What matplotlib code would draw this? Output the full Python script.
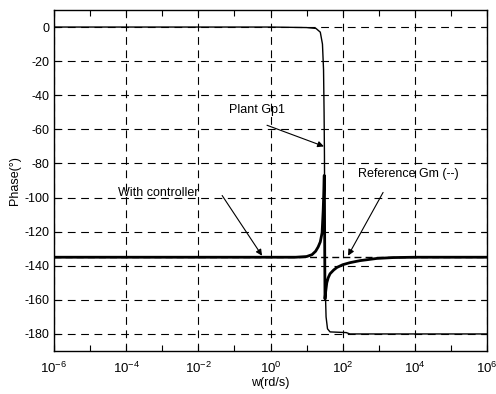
import numpy as np
import matplotlib
matplotlib.use("Agg")
import matplotlib.pyplot as plt
from matplotlib.ticker import FixedLocator, NullFormatter

plt.rcParams['font.family'] = ['Liberation Sans', 'DejaVu Sans']
plt.rcParams['mathtext.fontset'] = 'custom'
plt.rcParams['mathtext.rm'] = 'Liberation Sans'
plt.rcParams['mathtext.it'] = 'Liberation Sans'

# ---- data (log10 of frequency in rd/s, phase in degrees) ----
plant_logw = [-6.0, 0.0, 1.0, 1.26, 1.38, 1.44, 1.47, 1.485, 1.495, 1.50, 1.51, 1.52, 1.54, 1.58, 1.65, 2.10, 2.20, 6.0]
plant_phase = [0, 0, -0.3, -0.8, -3, -10, -25, -50, -75, -100, -135, -155, -170, -177, -178.8, -179.2, -180, -180]

ctrl_logw = [-6.0, 0.7, 1.0, 1.15, 1.25, 1.32, 1.38, 1.43, 1.46, 1.48, 1.49, 1.50, 1.51, 1.53, 1.56, 1.60, 1.65, 1.75, 1.84, 2.0, 2.2, 2.48, 2.95, 3.4, 4.0, 6.0]
ctrl_phase = [-135, -135, -134.6, -133.5, -131.5, -129, -126, -120.6, -107.6, -95, -87, -120, -159.4, -155, -150, -147, -144.7, -142.5, -141, -139.4, -138.2, -137, -135.7, -135.2, -135, -135]

ref_logw = [-6.0, 6.0]
ref_phase = [-135, -135]

yticks = [0, -20, -40, -60, -80, -100, -120, -140, -160, -180]
xticks_major = [1e-6, 1e-4, 1e-2, 1e0, 1e2, 1e4, 1e6]
xticks_minor = [1e-5, 1e-3, 1e-1, 1e1, 1e3, 1e5]
xtick_labels = [r'$10^{-6}$', r'$10^{-4}$', r'$10^{-2}$', r'$10^{0}$', r'$10^{2}$', r'$10^{4}$', r'$10^{6}$']

fig = plt.figure(figsize=(4.96, 3.94), dpi=100)
ax = fig.add_axes([54/496, 43/394, 433/496, 341/394])

ax.semilogx(10.0**np.array(ref_logw), ref_phase, color='black', lw=1.0, dashes=(5, 3))
ax.semilogx(10.0**np.array(plant_logw), plant_phase, color='black', lw=1.0)
ax.semilogx(10.0**np.array(ctrl_logw), ctrl_phase, color='black', lw=2.0)

ax.set_xlim(1e-6, 1e6)
ax.set_ylim(-190, 10)
ax.xaxis.set_major_locator(FixedLocator(xticks_major))
ax.xaxis.set_minor_locator(FixedLocator(xticks_minor))
ax.xaxis.set_minor_formatter(NullFormatter())
ax.set_xticklabels(xtick_labels)
ax.set_yticks(yticks)
ax.set_yticklabels([str(v) for v in yticks])

ax.grid(True, which='major', color='black', lw=0.8, dashes=(7, 5))
ax.tick_params(which='both', direction='in', top=True, right=True, labelsize=9, length=4, width=0.8)
ax.tick_params(axis='x', pad=7, labelsize=9.5)
for s in ax.spines.values():
    s.set_linewidth(1.0)

ax.set_xlabel('w(rd/s)', fontsize=9, labelpad=1)
ax.set_ylabel('Phase(°)', fontsize=9, labelpad=2)

arrow = dict(arrowstyle='-|>', color='black', lw=0.8, mutation_scale=9, shrinkA=0, shrinkB=0)
ax.annotate('Plant Gp1', xy=(10**1.48, -70), xytext=(10**-1.15, -48.8),
            fontsize=9, va='center', ha='left')
ax.annotate('', xy=(10**1.48, -70), xytext=(10**-0.097, -57.6), arrowprops=arrow)
ax.annotate('With controller', xy=(10**-0.235, -134.1), xytext=(10**-4.23, -97.6),
            fontsize=9, va='center', ha='left')
ax.annotate('', xy=(10**-0.235, -134.1), xytext=(10**-1.34, -98.8), arrowprops=arrow)
ax.annotate('Reference Gm (--)', xy=(10**2.15, -134.1), xytext=(10**2.43, -85.9),
            fontsize=9, va='center', ha='left')
ax.annotate('', xy=(10**2.15, -134.1), xytext=(10**3.12, -97), arrowprops=arrow)

fig.savefig('out.png', dpi=100)
